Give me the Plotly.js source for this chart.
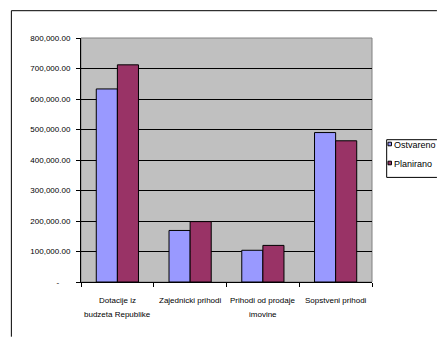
<!DOCTYPE html>
<html><head><meta charset="utf-8">
<script src="https://cdn.plot.ly/plotly-3.0.1.min.js"></script>
<style>html,body{margin:0;padding:0;overflow:hidden;background:#fff}#c{width:437px;height:337px}</style>
</head><body><div id="c"></div>
<script>
const categoryLines = [["Dotacije iz", "budzeta Republike"], ["Zajednicki prihodi"], ["Prihodi od prodaje", "imovine"], ["Sopstveni prihodi"]];
const categories = categoryLines.map(l => l.join(" "));
const seriesNames = ["Ostvareno", "Planirano"];
const ostvareno = [633000, 169000, 104000, 490000];
const planirano = [712000, 198000, 120000, 463000];
const tickValues = [0, 100000, 200000, 300000, 400000, 500000, 600000, 700000, 800000];
const tickLabels = ["-\u00a0\u00a0\u00a0\u00a0\u00a0", "100,000.00", "200,000.00", "300,000.00", "400,000.00", "500,000.00", "600,000.00", "700,000.00", "800,000.00"];
const colors = ["#9999FF", "#993366"];

const L = 80.7, R = 372, T = 38.3, B = 282.3, W = 437, H = 337;
const pw = R - L, ph = B - T;
const px = v => (v - L) / pw;
const py = v => (B - v) / ph;
const FONT = "Liberation Sans, Arial";

const traces = [ostvareno, planirano].map((vals, i) => ({
  type: "bar", x: categories, y: vals, name: seriesNames[i],
  marker: {color: colors[i], line: {color: "#000", width: 1}},
  showlegend: false, hoverinfo: "none"
}));

const pline = (x0, y0, x1, y1, c) => ({type: "line", xref: "paper", yref: "paper", x0: px(x0), x1: px(x1), y0: py(y0), y1: py(y1), line: {color: c || "#000", width: 1}});
const shapes = [
  {type: "rect", xref: "paper", yref: "paper", x0: 0, x1: 1, y0: 0, y1: 1, line: {color: "#808080", width: 1}, layer: "below"},
  pline(11, 11, 437, 11), pline(11, 11, 11, 337),
  {type: "rect", xref: "paper", yref: "paper", x0: px(386.7), x1: px(436), y0: py(140), y1: py(177.7), line: {width: 0}, fillcolor: "#fff"},
  pline(386.7, 140, 437, 140), pline(386.7, 177.7, 437, 177.7), pline(386.7, 140, 386.7, 177.7)
];
const annotations = [];
const legY = [144.3, 163.3];
seriesNames.forEach((n, i) => {
  shapes.push({type: "rect", xref: "paper", yref: "paper", x0: px(388), x1: px(391.5), y0: py(legY[i] - 1.8), y1: py(legY[i] + 1.8), fillcolor: colors[i], line: {color: "#000", width: 1}});
  annotations.push({xref: "paper", yref: "paper", x: px(392.5), y: py(legY[i] + 0.5), xanchor: "left", yanchor: "middle", text: n, showarrow: false, font: {family: FONT, size: 9, color: "#000"}});
});
categoryLines.forEach((lines, ci) => {
  lines.forEach((t, li) => {
    annotations.push({xref: "x", yref: "paper", x: categories[ci], y: py(301 + 14 * li), xanchor: "center", yanchor: "middle", text: t, showarrow: false, font: {family: FONT, size: 8, color: "#000"}});
  });
});

const layout = {
  width: W, height: H,
  margin: {l: L, r: W - R, t: T, b: H - B, pad: 0},
  paper_bgcolor: "#fff", plot_bgcolor: "#C0C0C0",
  font: {family: FONT, size: 8, color: "#000"},
  barmode: "group", bargap: 0.42, bargroupgap: 0,
  xaxis: {type: "category", showline: true, linecolor: "#000", linewidth: 1, ticks: "outside", tickson: "boundaries", ticklen: 4, tickcolor: "#000", showgrid: false, showticklabels: false, fixedrange: true},
  yaxis: {range: [0, 800000], tickvals: tickValues, ticktext: tickLabels, showline: true, linecolor: "#000", linewidth: 1, ticks: "outside", ticklen: 4, tickcolor: "#000", showgrid: true, gridcolor: "#000", gridwidth: 1, zeroline: false, tickfont: {size: 8}, ticklabelstandoff: 4, fixedrange: true},
  shapes: shapes, annotations: annotations
};
Plotly.newPlot("c", traces, layout, {staticPlot: true, displayModeBar: false});
</script></body></html>
